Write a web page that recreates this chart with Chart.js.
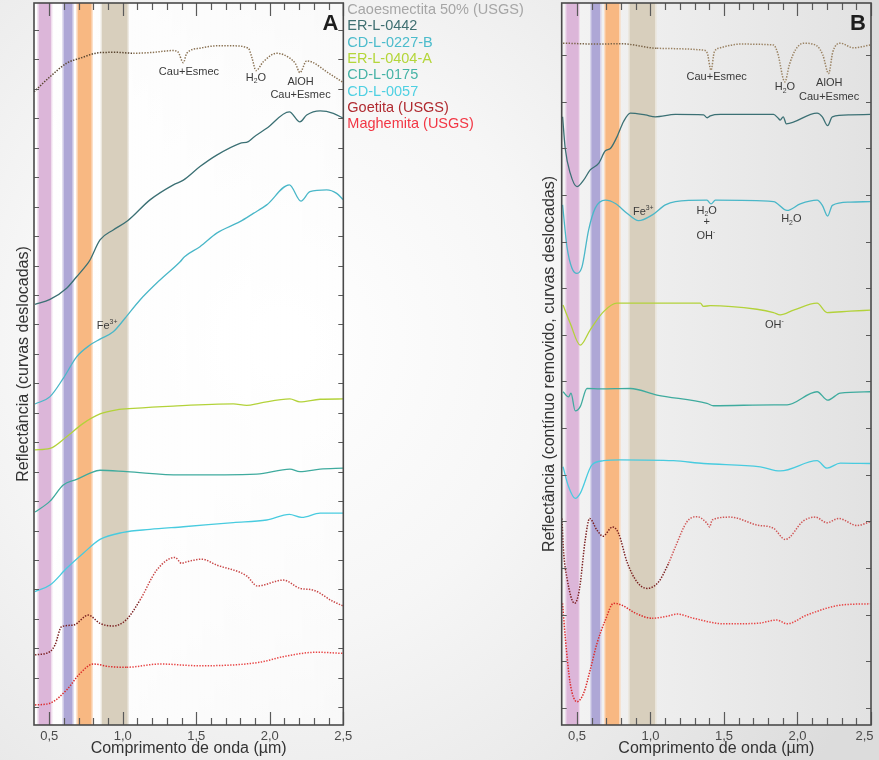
<!DOCTYPE html>
<html>
<head>
<meta charset="utf-8">
<script src="https://cdn.jsdelivr.net/npm/chart.js@4/dist/chart.umd.min.js"></script>
<style>
  html, body { margin: 0; padding: 0; }
  body {
    width: 879px; height: 760px; overflow: hidden; position: relative;
    background: radial-gradient(ellipse 75% 95% at 32% 45%, #ffffff 0%, #f6f6f6 40%, #e8e8e8 75%, #dcdcdc 100%);
  }
  #chartA { position: absolute; left: 0; top: 0; }
  #chartB { position: absolute; left: 440px; top: 0; }
</style>
</head>
<body>
<canvas id="chartA" width="560" height="760"></canvas>
<canvas id="chartB" width="439" height="760"></canvas>
<script>
const FONT = '"Liberation Sans", Arial, Helvetica, sans-serif';

// ---------- series names ----------
const seriesNames = ['Caoesmectita 50% (USGS)', 'ER-L-0442', 'CD-L-0227-B', 'ER-L-0404-A',
                     'CD-L-0175', 'CD-L-0057', 'Goetita (USGS)', 'Maghemita (USGS)'];

// ---------- axis ticks ----------
const xTickValues = [0.5, 0.6, 0.7, 0.8, 0.9, 1.0, 1.1, 1.2, 1.3, 1.4, 1.5, 1.6, 1.7, 1.8, 1.9,
                     2.0, 2.1, 2.2, 2.3, 2.4, 2.5];
const xMajorValues = [0.5, 1.0, 1.5, 2.0, 2.5];
const xMajorLabelsA = ['0,5', '1,0', '1,5', '2,0', '2,5'];
// last label padded so it stays inside the right edge of the page
const xMajorLabelsB = ['0,5', '1,0', '1,5', '2,0', '2,5\u2002\u2002'];
const yTicksA = [0, 1, 2, 3, 4, 5, 6, 7, 8, 9, 10, 11, 12, 13, 14, 15, 16, 17, 18, 19, 20, 21, 22, 23];
const yTicksB = [0, 1, 2, 3, 4, 5, 6, 7, 8, 9, 10, 11, 12, 13, 14];

// ---------- absorption windows (µm) ----------
const bandStart = [0.42, 0.59, 0.685, 0.85];
const bandEnd   = [0.52, 0.665, 0.795, 1.04];

// ---------- Panel A: reflectance, offset curves ----------
const wlCaoA = [0.396, 0.505, 0.618, 0.709, 0.845, 0.959, 1.071, 1.185, 1.344, 1.376, 1.412, 1.435, 1.525,
                1.639, 1.752, 1.854, 1.879, 1.906, 1.956, 2.047, 2.137, 2.175, 2.205, 2.251, 2.296, 2.387, 2.5];
const caoA   = [20.90, 21.41, 21.87, 22.04, 22.23, 22.24, 22.21, 22.23, 22.30, 22.25, 21.89, 22.21, 22.38,
                22.46, 22.46, 22.38, 22.05, 21.62, 21.92, 22.21, 22.04, 21.85, 21.55, 21.95, 21.89, 21.58, 21.21];

const wl0442A = [0.403, 0.505, 0.618, 0.686, 0.754, 0.777, 0.845, 0.935, 1.033, 1.185, 1.344, 1.412, 1.525,
                 1.639, 1.797, 1.854, 1.888, 1.979, 2.133, 2.205, 2.251, 2.342, 2.432, 2.5];
const er0442A = [13.68, 13.85, 14.23, 14.62, 15.02, 15.19, 15.87, 16.21, 16.52, 17.23, 17.74, 17.90, 18.36,
                 18.75, 19.15, 19.21, 19.35, 19.66, 20.22, 19.88, 20.11, 20.25, 20.17, 20.00];

const wl0227A = [0.403, 0.505, 0.595, 0.686, 0.777, 0.845, 0.935, 1.015, 1.117, 1.253, 1.39, 1.42, 1.525,
                 1.639, 1.797, 1.888, 1.979, 2.133, 2.212, 2.273, 2.387, 2.455, 2.5];
const cd0227A = [10.30, 10.55, 11.17, 11.90, 12.30, 12.50, 12.75, 13.21, 13.83, 14.51, 15.13, 15.30, 15.64,
                 16.10, 16.49, 16.77, 17.06, 17.74, 17.19, 17.51, 17.57, 17.45, 17.23];

const wl0404A = [0.403, 0.505, 0.618, 0.731, 0.845, 0.959, 1.071, 1.344, 1.752, 1.843, 1.933, 2.137, 2.205, 2.342, 2.5];
const er0404A = [8.74, 8.79, 9.19, 9.64, 9.96, 10.10, 10.15, 10.23, 10.30, 10.25, 10.33, 10.47, 10.37, 10.46, 10.47];

const wl0175A = [0.403, 0.505, 0.595, 0.686, 0.777, 0.845, 1.027, 1.39, 1.911, 2.137, 2.205, 2.342, 2.5];
const cd0175A = [6.63, 7.00, 7.55, 7.74, 7.95, 8.05, 8.00, 7.89, 7.92, 8.09, 8.00, 8.09, 8.12];

const wl0057A = [0.403, 0.505, 0.618, 0.731, 0.845, 1.003, 1.185, 1.412, 1.752, 1.979, 2.133, 2.217, 2.342, 2.5];
const cd0057A = [3.93, 4.15, 4.72, 5.23, 5.70, 5.94, 6.04, 6.13, 6.27, 6.36, 6.55, 6.45, 6.59, 6.59];

const wlGoeA = [0.403, 0.505, 0.539, 0.584, 0.663, 0.765, 0.845, 0.935, 1.027, 1.117, 1.231, 1.355, 1.40, 1.435,
                1.537, 1.639, 1.843, 1.915, 2.092, 2.205, 2.296, 2.432, 2.5];
const goeA   = [1.78, 1.89, 2.12, 2.74, 2.79, 3.13, 2.85, 2.76, 2.99, 3.64, 4.66, 5.09, 4.89, 4.94,
                5.03, 4.83, 4.46, 4.12, 4.32, 4.04, 3.98, 3.59, 3.44];

const wlMagA = [0.403, 0.505, 0.618, 0.709, 0.799, 0.913, 1.027, 1.253, 1.525, 1.933, 2.092, 2.319, 2.5];
const magA   = [0.08, 0.14, 0.59, 1.15, 1.47, 1.38, 1.36, 1.47, 1.41, 1.53, 1.72, 1.87, 1.83];

// ---------- Panel B: continuum removed, offset curves ----------
const wlCaoB = [0.405, 0.659, 0.795, 1.044, 1.361, 1.386, 1.412, 1.434, 1.475, 1.611, 1.837, 1.865, 1.914,
                1.945, 1.985, 2.041, 2.133, 2.172, 2.212, 2.24, 2.291, 2.38, 2.495];
const caoB   = [14.26, 14.24, 14.25, 14.15, 14.11, 14.05, 13.68, 14.07, 14.16, 14.24, 14.22, 14.05, 13.43,
                13.80, 14.11, 14.26, 14.20, 14.01, 13.61, 14.07, 14.26, 14.16, 14.22];

const wl0442B = [0.402, 0.420, 0.454, 0.500, 0.545, 0.590, 0.647, 0.693, 0.727, 0.772, 0.817, 0.863, 0.965, 1.033,
                 1.169, 1.361, 1.386, 1.407, 1.475, 1.837, 1.869, 1.882, 1.903, 1.924, 2.133, 2.169, 2.205,
                 2.237, 2.359, 2.495];
const er0442B = [12.68, 12.00, 11.47, 11.18, 11.32, 11.54, 11.68, 11.95, 12.00, 12.25, 12.58, 12.76, 12.72, 12.68,
                 12.73, 12.72, 12.66, 12.70, 12.73, 12.73, 12.65, 12.61, 12.68, 12.53, 12.76, 12.68, 12.49,
                 12.68, 12.72, 12.73];

const wl0227B = [0.402, 0.432, 0.466, 0.500, 0.534, 0.579, 0.624, 0.693, 0.761, 0.840, 0.919, 1.010, 1.101, 1.169,
                 1.384, 1.412, 1.441, 1.837, 1.929, 2.019, 2.133, 2.169, 2.205, 2.237, 2.359, 2.495];
const cd0227B = [10.79, 9.89, 9.43, 9.32, 9.46, 10.25, 10.72, 10.89, 10.82, 10.61, 10.45, 10.57, 10.79, 10.86,
                 10.89, 10.81, 10.89, 10.86, 10.67, 10.81, 10.89, 10.78, 10.55, 10.78, 10.85, 10.86];

const wl0404B = [0.405, 0.454, 0.522, 0.590, 0.681, 0.772, 1.021, 1.339, 1.361, 1.407, 1.724, 1.837, 1.883,
                 1.973, 2.133, 2.201, 2.359, 2.495];
const er0404B = [8.64, 8.25, 7.78, 8.11, 8.50, 8.68, 8.68, 8.68, 8.61, 8.63, 8.55, 8.48, 8.43,
                 8.53, 8.68, 8.48, 8.51, 8.53];

const wl0175B = [0.405, 0.443, 0.459, 0.488, 0.522, 0.568, 0.659, 0.863, 1.044, 1.384, 1.429, 1.837, 1.929,
                 2.133, 2.205, 2.291, 2.495];
const cd0175B = [6.78, 6.67, 6.75, 6.37, 6.46, 6.85, 6.84, 6.85, 6.71, 6.53, 6.48, 6.50, 6.50,
                 6.78, 6.60, 6.75, 6.78];

const wl0057B = [0.405, 0.443, 0.488, 0.522, 0.602, 0.681, 0.795, 1.157, 1.361, 1.747, 1.883, 2.133, 2.201, 2.291, 2.495];
const cd0057B = [5.17, 4.74, 4.49, 4.60, 5.21, 5.30, 5.32, 5.30, 5.24, 5.17, 5.08, 5.30, 5.14, 5.25, 5.24];

const wlGoeB = [0.398, 0.407, 0.432, 0.484, 0.516, 0.556, 0.586, 0.636, 0.677, 0.742, 0.783, 0.840, 0.908, 0.976,
                1.055, 1.123, 1.169, 1.248, 1.316, 1.384, 1.402, 1.420, 1.543, 1.724, 1.837, 1.917, 2.041,
                2.121, 2.201, 2.280, 2.405, 2.495];
const goeB   = [4.06, 3.43, 2.78, 2.24, 2.53, 3.60, 4.06, 3.81, 3.68, 3.88, 3.74, 3.13, 2.70, 2.56,
                2.70, 3.10, 3.45, 3.99, 4.10, 3.96, 3.88, 4.03, 4.09, 3.92, 3.85, 3.61, 4.01,
                4.09, 3.97, 4.06, 3.91, 3.99];

const wlMagB = [0.402, 0.420, 0.454, 0.500, 0.545, 0.590, 0.636, 0.693, 0.749, 0.806, 0.897, 1.010, 1.123, 1.180,
                1.293, 1.497, 1.724, 1.861, 1.929, 2.065, 2.291, 2.495];
const magB   = [2.24, 1.52, 0.52, 0.13, 0.31, 0.81, 1.38, 1.88, 2.24, 2.20, 2.03, 1.92, 1.97, 2.01,
                1.92, 1.80, 1.81, 1.88, 1.80, 1.99, 2.20, 2.23];

// ---------- feature labels (data coordinates) ----------
const notesA = [
  { x: 1.45,  y: 21.57, parts: [['Cau+Esmec', '']] },
  { x: 1.906, y: 21.37, parts: [['H', ''], ['2', 'sub'], ['O', '']] },
  { x: 2.209, y: 21.23, parts: [['AlOH', '']] },
  { x: 2.209, y: 20.79, parts: [['Cau+Esmec', '']] },
  { x: 0.893, y: 12.95, parts: [['Fe', ''], ['3+', 'sup']] }
];
const notesB = [
  { x: 1.45,  y: 13.54, parts: [['Cau+Esmec', '']] },
  { x: 1.914, y: 13.31, parts: [['H', ''], ['2', 'sub'], ['O', '']] },
  { x: 2.216, y: 13.41, parts: [['AlOH', '']] },
  { x: 2.215, y: 13.11, parts: [['Cau+Esmec', '']] },
  { x: 0.951, y: 10.63, parts: [['Fe', ''], ['3+', 'sup']] },
  { x: 1.382, y: 10.67, parts: [['H', ''], ['2', 'sub'], ['O', '']] },
  { x: 1.382, y: 10.43, parts: [['+', '']] },
  { x: 1.376, y: 10.12, parts: [['OH', ''], ['-', 'sup']] },
  { x: 1.958, y: 10.48, parts: [['H', ''], ['2', 'sub'], ['O', '']] },
  { x: 1.842, y: 8.21,  parts: [['OH', ''], ['-', 'sup']] }
];

// ---------- styles ----------
const lineColors = ['#8a7253', '#3b7074', '#4ab7c8', '#b3d23a', '#3fab9e', '#48cbdf', '#b03636', '#e83c3c'];
const legendColors = ['#a6a6a6', '#3f6f71', '#4cbccc', '#b4d63a', '#46b3a6', '#4fd0e2', '#b02a30', '#f23644'];
const bandColors = ['#dcb6d9', '#aea7d6', '#f8b882', '#d8cfbd'];

function pts(wl, v) { return wl.map((w, i) => ({ x: w, y: v[i] })); }

function solid(i, wl, v) {
  return { label: seriesNames[i], data: pts(wl, v), borderColor: lineColors[i], borderWidth: 1.3 };
}
function dotted(i, wl, v, cut, dark, light) {
  return {
    label: seriesNames[i], data: pts(wl, v), borderColor: light, borderWidth: 1.5,
    borderDash: [1.4, 1.4],
    segment: { borderColor: c => (wl[c.p0DataIndex] < cut ? dark : light) }
  };
}

// plot-area background
const plotFill = {
  id: 'plotFill',
  beforeDraw(chart, args, opts) {
    const { ctx, chartArea: a } = chart;
    const g = ctx.createLinearGradient(a.left, 0, a.right, 0);
    g.addColorStop(0, opts.from);
    g.addColorStop(1, opts.to);
    ctx.save();
    ctx.fillStyle = g;
    ctx.fillRect(a.left, a.top, a.right - a.left, a.bottom - a.top);
    ctx.restore();
  }
};

// spectral windows behind the curves
const bands = {
  id: 'bands',
  beforeDatasetsDraw(chart) {
    const { ctx, chartArea: a, scales: { x } } = chart;
    ctx.save();
    bandStart.forEach((s, i) => {
      const x0 = x.getPixelForValue(s), x1 = x.getPixelForValue(bandEnd[i]);
      ctx.fillStyle = bandColors[i];
      ctx.fillRect(x0, a.top, x1 - x0, a.bottom - a.top);
      ctx.strokeStyle = 'rgba(255,255,255,0.55)';
      ctx.lineWidth = 1.2;
      ctx.beginPath();
      ctx.moveTo(x0 + 0.6, a.top); ctx.lineTo(x0 + 0.6, a.bottom);
      ctx.moveTo(x1 - 0.6, a.top); ctx.lineTo(x1 - 0.6, a.bottom);
      ctx.stroke();
    });
    ctx.restore();
  }
};

function drawRich(ctx, parts, cx, cy, size) {
  const widths = parts.map(([t, m]) => {
    ctx.font = `${m ? size * 0.62 : size}px ${FONT}`;
    return ctx.measureText(t).width;
  });
  let x = cx - widths.reduce((s, w) => s + w, 0) / 2;
  parts.forEach(([t, m], i) => {
    ctx.font = `${m ? size * 0.62 : size}px ${FONT}`;
    const dy = m === 'sub' ? size * 0.3 : (m === 'sup' ? -size * 0.35 : 0);
    ctx.fillText(t, x, cy + dy);
    x += widths[i];
  });
}

// frame, inward tick marks, feature labels and panel letter
const frame = {
  id: 'frame',
  afterDatasetsDraw(chart, args, opts) {
    const { ctx, chartArea: a, scales: { x, y } } = chart;
    ctx.save();
    ctx.strokeStyle = '#5a5a5a';
    ctx.lineWidth = 1.2;
    ctx.beginPath();
    x.ticks.forEach(t => {
      const px = Math.round(x.getPixelForValue(t.value)) + 0.5;
      const len = xMajorValues.includes(t.value) ? 13 : 7;
      ctx.moveTo(px, a.bottom); ctx.lineTo(px, a.bottom - len);
      ctx.moveTo(px, a.top); ctx.lineTo(px, a.top + len);
    });
    y.ticks.forEach(t => {
      const py = Math.round(y.getPixelForValue(t.value)) + 0.5;
      ctx.moveTo(a.left, py); ctx.lineTo(a.left + 5, py);
      ctx.moveTo(a.right, py); ctx.lineTo(a.right - 5, py);
    });
    ctx.stroke();
    ctx.strokeStyle = '#4a4a4a';
    ctx.lineWidth = 1.6;
    ctx.strokeRect(a.left, a.top, a.right - a.left, a.bottom - a.top);

    ctx.fillStyle = '#3a3a3a';
    ctx.textAlign = 'left';
    ctx.textBaseline = 'middle';
    opts.notes.forEach(n => drawRich(ctx, n.parts, x.getPixelForValue(n.x), y.getPixelForValue(n.y), 11));

    ctx.fillStyle = '#1e1e1e';
    ctx.font = `bold 22px ${FONT}`;
    ctx.textAlign = 'right';
    ctx.textBaseline = 'alphabetic';
    ctx.fillText(opts.letter, a.right - 5, a.top + 27);
    ctx.restore();
  }
};

// coloured series list to the right of panel A
const nameList = {
  id: 'nameList',
  afterDraw(chart, args, opts) {
    if (!opts.show) return;
    const { ctx, chartArea: a } = chart;
    ctx.save();
    ctx.font = `14.5px ${FONT}`;
    ctx.textAlign = 'left';
    ctx.textBaseline = 'middle';
    chart.data.datasets.forEach((d, i) => {
      ctx.fillStyle = legendColors[i];
      ctx.fillText(d.label, a.right + 4, 10 + i * 16.3);
    });
    ctx.restore();
  }
};

function options(yMin, yMax, yTicks, yTitle, xLabels, padL, yWidth, padR, fill, notes, letter, showNames) {
  return {
    responsive: false,
    animation: false,
    devicePixelRatio: 1,
    layout: { padding: { left: padL, right: padR, top: 3, bottom: 0 } },
    elements: {
      point: { radius: 0, hoverRadius: 0 },
      line: { cubicInterpolationMode: 'monotone', borderCapStyle: 'butt' }
    },
    plugins: {
      legend: { display: false },
      tooltip: { enabled: false },
      plotFill: fill,
      frame: { notes, letter },
      nameList: { show: showNames }
    },
    scales: {
      x: {
        type: 'linear', min: 0.396, max: 2.5,
        afterBuildTicks: s => { s.ticks = xTickValues.map(v => ({ value: v })); },
        afterFit: s => { s.height = 35; s.paddingLeft = 0; s.paddingRight = 0; },
        grid: { display: false, drawTicks: false },
        border: { display: false },
        ticks: {
          autoSkip: false, maxRotation: 0, padding: 4, color: '#4a4a4a',
          font: { size: 13, family: FONT },
          callback: v => { const k = xMajorValues.indexOf(v); return k >= 0 ? xLabels[k] : ''; }
        },
        title: {
          display: true, text: 'Comprimento de onda (µm)', color: '#333',
          font: { size: 16, family: FONT }, padding: { top: 0, bottom: 2 }
        }
      },
      y: {
        type: 'linear', min: yMin, max: yMax,
        afterBuildTicks: s => { s.ticks = yTicks.map(v => ({ value: v })); },
        afterFit: s => { s.width = yWidth; s.paddingTop = 0; s.paddingBottom = 0; },
        grid: { display: false, drawTicks: false },
        border: { display: false },
        ticks: { display: false },
        title: {
          display: true, text: yTitle, color: '#333',
          font: { size: 16, family: FONT }, padding: { top: 0, bottom: 0 }
        }
      }
    }
  };
}

new Chart(document.getElementById('chartA'), {
  type: 'line',
  data: {
    datasets: [
      dotted(0, wlCaoA, caoA, 1.0, '#5a4630', '#8a7253'),
      solid(1, wl0442A, er0442A),
      solid(2, wl0227A, cd0227A),
      solid(3, wl0404A, er0404A),
      solid(4, wl0175A, cd0175A),
      solid(5, wl0057A, cd0057A),
      dotted(6, wlGoeA, goeA, 1.05, '#7a1f1f', '#c84646'),
      dotted(7, wlMagA, magA, 1.0, '#dc2a2a', '#e84646')
    ]
  },
  options: options(-0.601, 23.915, yTicksA, 'Reflectância (curvas deslocadas)', xMajorLabelsA,
                   13.5, 20.5, 216.7, { from: 'rgba(255,255,255,0.95)', to: 'rgba(255,255,255,0.55)' },
                   notesA, 'A', true),
  plugins: [plotFill, bands, frame, nameList]
});

new Chart(document.getElementById('chartB'), {
  type: 'line',
  data: {
    datasets: [
      dotted(0, wlCaoB, caoB, 1.0, '#7a6448', '#9a8262'),
      solid(1, wl0442B, er0442B),
      solid(2, wl0227B, cd0227B),
      solid(3, wl0404B, er0404B),
      solid(4, wl0175B, cd0175B),
      solid(5, wl0057B, cd0057B),
      dotted(6, wlGoeB, goeB, 1.1, '#7a1f1f', '#d05656'),
      dotted(7, wlMagB, magB, 1.0, '#dc2a2a', '#e84646')
    ]
  },
  options: options(-0.371, 15.122, yTicksB, 'Reflectância (contínuo removido, curvas deslocadas)', xMajorLabelsB,
                   100.4, 21.3, 8, { from: '#f3f3f3', to: '#e2e2e2' },
                   notesB, 'B', false),
  plugins: [plotFill, bands, frame, nameList]
});
</script>
</body>
</html>
